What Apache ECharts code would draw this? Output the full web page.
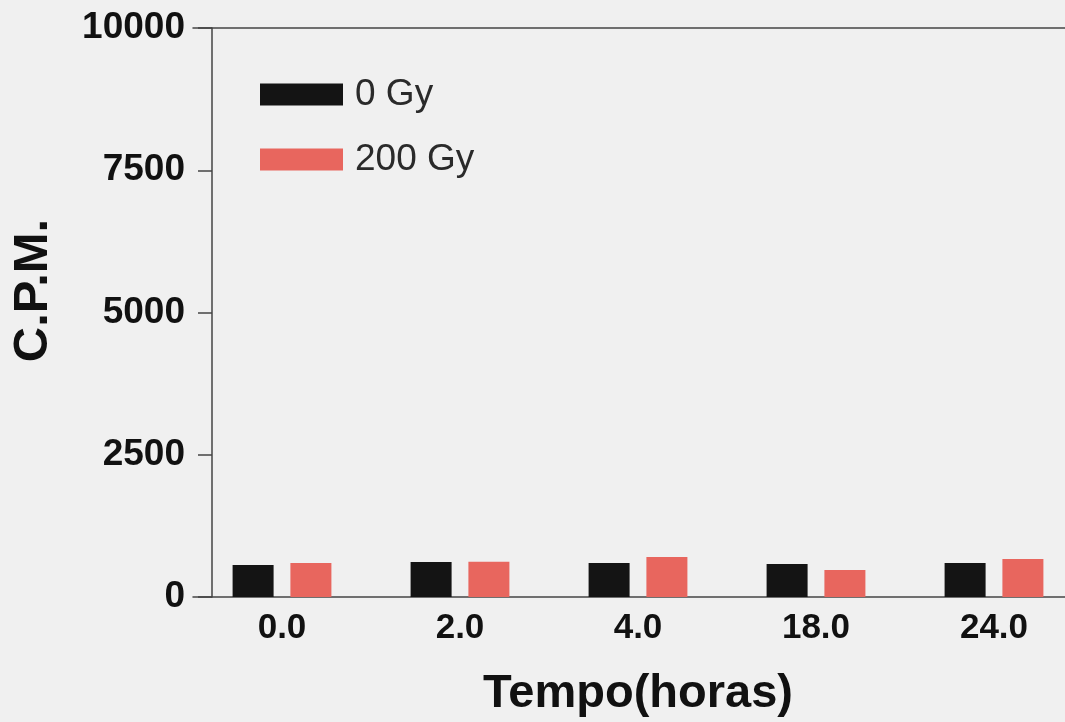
<!DOCTYPE html>
<html>
<head>
<meta charset="utf-8">
<script src="https://cdn.jsdelivr.net/npm/echarts@6/dist/echarts.min.js"></script>
<style>
  html, body { margin: 0; padding: 0; background: #f0f0f0; }
  #chart { width: 1065px; height: 722px; }
</style>
</head>
<body>
<div id="chart"></div>
<script>
// Time points (hours) and counts per minute for each dose
const categories = ['0.0', '2.0', '4.0', '18.0', '24.0'];
const dose0 = [562, 615, 598, 580, 598];
const dose200 = [598, 620, 703, 475, 668];
const seriesNames = ['0 Gy', '200 Gy'];
const yTicks = { min: 0, max: 10000, interval: 2500 };

const font = '"Liberation Sans", Arial, Helvetica, sans-serif';
const axisColor = '#444';

const chart = echarts.init(document.getElementById('chart'));
chart.setOption({
  backgroundColor: '#f0f0f0',
  animation: false,
  grid: { left: 193, top: 28, width: 890, bottom: 125, containLabel: false, outerBoundsMode: 'none' },
  legend: {
    orient: 'vertical',
    left: 255,
    top: 71,
    itemWidth: 83,
    itemHeight: 22,
    itemGap: 28,
    icon: 'rect',
    textStyle: { fontFamily: font, fontSize: 37, color: '#2a2a2a', lineHeight: 22, padding: [0, 0, 0, 7] },
    data: seriesNames
  },
  xAxis: [{
    type: 'category',
    data: categories,
    axisLine: { show: true, lineStyle: { color: axisColor, width: 1.5 } },
    axisTick: { show: false },
    axisLabel: { fontFamily: font, fontSize: 35, fontWeight: 'bold', color: '#111', margin: 14 },
    name: 'Tempo(horas)',
    nameLocation: 'middle',
    nameGap: 74,
    nameTextStyle: { fontFamily: font, fontSize: 47, fontWeight: 'bold', color: '#111' }
  }, {
    type: 'category',
    position: 'top',
    data: categories,
    axisLine: { show: true, lineStyle: { color: axisColor, width: 1.5 } },
    axisTick: { show: false },
    axisLabel: { show: false }
  }],
  yAxis: {
    type: 'value',
    min: yTicks.min,
    max: yTicks.max,
    interval: yTicks.interval,
    offset: -19,
    axisLine: { show: true, lineStyle: { color: axisColor, width: 1.5 } },
    axisTick: { show: true, length: 14, lineStyle: { color: axisColor, width: 1.5 } },
    axisLabel: { fontFamily: font, fontSize: 37, fontWeight: 'bold', color: '#111', margin: 27, formatter: v => String(v) },
    splitLine: { show: false },
    name: 'C.P.M.',
    nameLocation: 'middle',
    nameGap: 154,
    nameTextStyle: { fontFamily: font, fontSize: 49, fontWeight: 'bold', color: '#111', padding: [0, 0, 0, 44] }
  },
  series: [{
    name: seriesNames[0],
    type: 'bar',
    data: dose0,
    barWidth: 41,
    barGap: '41%',
    itemStyle: { color: '#141414' }
  }, {
    name: seriesNames[1],
    type: 'bar',
    data: dose200,
    barWidth: 41,
    itemStyle: { color: '#e8665e' }
  }]
});
</script>
</body>
</html>
